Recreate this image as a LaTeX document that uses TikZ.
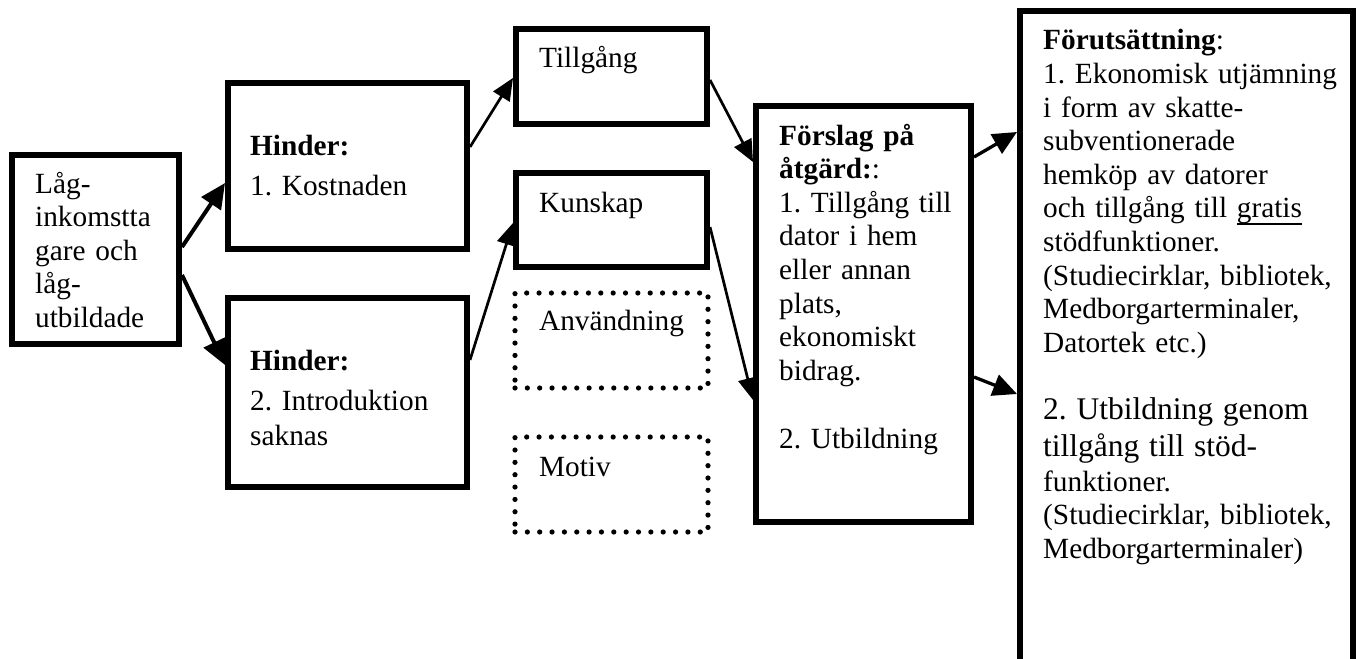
\documentclass[tikz,border=0pt]{standalone}
\usepackage{fontspec}
\setmainfont{Liberation Serif}
\usetikzlibrary{arrows.meta}
% keep every baseline on the fixed grid, even for the larger lines
\setlength\lineskiplimit{-100pt}
\frenchspacing
\newsavebox\ulinebox
\newcommand\undertext[1]{\sbox\ulinebox{#1}\rlap{\rule[-6.6pt]{\wd\ulinebox}{1.6pt}}\usebox\ulinebox}

\begin{document}
\begin{tikzpicture}[x=1pt, y=-1pt,
  font=\fontsize{29.3}{33.6}\selectfont,
  box/.style={draw, line width=6pt, rectangle, inner sep=0pt},
  dotbox/.style={draw, line width=5.2pt, line cap=round, dash pattern=on 0pt off 12.35pt,
                 rectangle, inner sep=0pt},
  txt/.style={inner sep=0pt, anchor=base west, text width=340pt, align=left},
  arrA/.style={-{Triangle[length=25pt, width=23pt]}, line width=4pt},
  arrB/.style={-{Triangle[length=22pt, width=19pt]}, line width=2.7pt},
  arrC/.style={-{Triangle[length=24pt, width=22pt]}, line width=3.3pt}]

\useasboundingbox (0,0) rectangle (1356,658);
\clip (0,0) rectangle (1356,658);

% boxes
\node[box, minimum width=167pt, minimum height=189pt] (grupp) at (95.5,249.5) {};
\node[box, minimum width=239pt, minimum height=166pt] (hinder1) at (347.5,166) {};
\node[box, minimum width=239pt, minimum height=189pt] (hinder2) at (347.5,392.5) {};
\node[box, minimum width=191pt, minimum height=95pt] (tillgang) at (611.5,76.5) {};
\node[box, minimum width=191pt, minimum height=94pt] (kunskap) at (611.5,220) {};
\node[dotbox, minimum width=193pt, minimum height=95pt] (anvandning) at (611.5,340.5) {};
\node[dotbox, minimum width=193pt, minimum height=95pt] (motiv) at (611.5,484.5) {};
\node[box, minimum width=215pt, minimum height=416pt] (forslag) at (863.5,314) {};
\node[box, minimum width=333pt, minimum height=706pt] (forutsattning) at (1186.5,364) {};

% texts
\node[txt] (grupp-t) at ([xshift=26pt, yshift=-41pt]grupp.north west)
  {Låg-\\inkomstta\\gare och\\låg-\\utbildade};
\node[txt] (hinder1-t) at ([xshift=25pt, yshift=-75pt]hinder1.north west)
  {\textbf{Hinder:}\\[6.4pt]1. Kostnaden};
\node[txt] (hinder2-t) at ([xshift=25pt, yshift=-75pt]hinder2.north west)
  {\textbf{Hinder:}\\[6.4pt]2. Introduktion\\[1.4pt]saknas};
\node[txt] (tillgang-t) at ([xshift=26pt, yshift=-42pt]tillgang.north west) {Tillgång};
\node[txt] (kunskap-t) at ([xshift=26pt, yshift=-42pt]kunskap.north west) {Kunskap};
\node[txt] (anvandning-t) at ([xshift=26.5pt, yshift=-40.5pt]anvandning.north west) {Användning};
\node[txt] (motiv-t) at ([xshift=26.5pt, yshift=-42.5pt]motiv.north west) {Motiv};
\node[txt] (forslag-t) at ([xshift=26pt, yshift=-42pt]forslag.north west)
  {\textbf{Förslag på}\\\textbf{åtgärd:}:\\1. Tillgång till\\dator i hem\\eller annan\\plats,\\ekonomiskt\\bidrag.\\[34.4pt]2. Utbildning};
\node[txt] (forutsattning-t) at ([xshift=26pt, yshift=-42pt]forutsattning.north west)
  {\textbf{Förutsättning}:\\
   1. Ekonomisk utjämning\\
   i form av skatte-\\
   subventionerade\\
   hemköp av datorer\\
   och tillgång till \undertext{gratis}\\
   stödfunktioner.\\
   (Studiecirklar, bibliotek,\\
   Medborgarterminaler,\\
   Datortek etc.)\\[33.4pt]
   {\fontsize{31.5}{33.6}\selectfont 2. Utbildning genom}\\[3.4pt]
   {\fontsize{31.5}{33.6}\selectfont tillgång till stöd-}\\[1.4pt]
   funktioner.\\
   (Studiecirklar, bibliotek,\\
   Medborgarterminaler)};

% connectors
\draw[arrA] ([yshift=2.5pt]grupp.east) -- ([yshift=-17pt]hinder1.west);
\draw[arrA] ([yshift=-25.5pt]grupp.east) -- ([yshift=27.5pt]hinder2.west);
\draw[arrB] ([yshift=19pt]hinder1.east) -- ([yshift=-1.5pt]tillgang.west);
\draw[arrB] ([yshift=32.5pt]hinder2.east) -- ([yshift=-3pt]kunskap.west);
\draw[arrB] ([yshift=-3.5pt]tillgang.east) -- ([yshift=152pt]forslag.west);
\draw[arrB] ([yshift=-7pt]kunskap.east) -- ([yshift=-86pt]forslag.west);
\draw[arrC] ([yshift=157pt]forslag.east) -- ([yshift=232pt]forutsattning.west);
\draw[arrC] ([yshift=-63pt]forslag.east) -- ([yshift=-30pt]forutsattning.west);
\end{tikzpicture}
\end{document}
